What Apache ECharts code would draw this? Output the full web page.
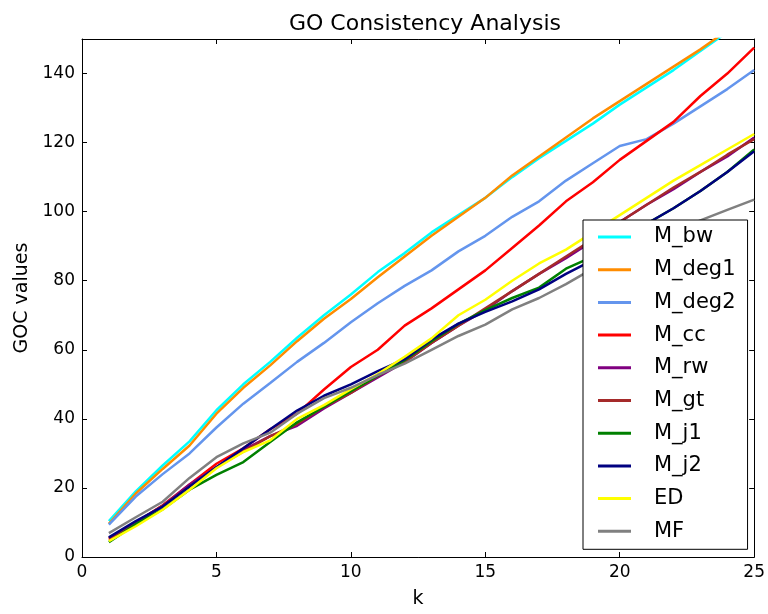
<!DOCTYPE html>
<html>
<head>
<meta charset="utf-8">
<script src="https://cdn.jsdelivr.net/npm/echarts@6/dist/echarts.min.js"></script>
<style>html,body{margin:0;padding:0;background:#fff}#c{width:768px;height:614px}</style>
</head>
<body>
<div id="c"></div>
<script>
const kValues = [1,2,3,4,5,6,7,8,9,10,11,12,13,14,15,16,17,18,19,20,21,22,23,24,25];
const seriesNames = ['M_bw','M_deg1','M_deg2','M_cc','M_rw','M_gt','M_j1','M_j2','ED','MF'];
const M_bw   = [10.4,19,26.5,33.5,42.5,50,56.5,63.5,70,76,82.5,88,94,99,104,110,115.5,120.5,125.5,131,136,141,146.5,152,157];
const M_deg1 = [9.6,18.4,25.5,32.3,41.5,49,55.5,62.5,69,74.7,81,87,93,98.5,104,110.5,116,121.5,127,132,137,142,147,152.5,158];
const M_deg2 = [9.4,17.5,24,30,37.5,44.4,50.4,56.5,62,68,73.5,78.5,83,88.5,93,98.5,103,109,114,119,121,125.5,130.5,135.5,141];
const M_cc   = [5,10,15,21,27,31.5,37,41.5,48.5,55,60,67,72,77.5,83,89.5,96,103,108.5,115,120.5,126,133.5,140,147.5];
const M_rw   = [5.5,10,14.8,21,26,31,35,38,43,47.5,52,56.5,62,67,71.5,77,82,86.5,91.5,97,102,106.5,111.5,116,121.5];
const M_gt   = [5.5,10,14.8,20.5,26,30.5,35,38.5,43.5,47.5,52.5,56.5,62,67,72,77,82,87,92,97,102,107,111.5,116.5,121];
const M_j1   = [4.3,9.5,13.8,19.5,23.8,27.5,33.3,39,43.5,48,52.5,57,62.5,67.5,71.5,75,78,83.5,87,92,96.5,101,106,111.5,118];
const M_j2   = [5.7,10.4,14.6,20.4,26,31.5,37,42.4,46.7,50,53.8,57.3,63,67.6,71,74,77.5,82,86,91.5,96.5,101,106,111.5,117.5];
const ED     = [4.6,8.9,13.7,19.5,25.7,30.4,33.8,40,44,48.6,53,58,63.3,70,74.5,80,85,89,94,99,104,109,113.5,118,122.5];
const MF     = [6.9,11.5,16,22.9,28.9,32.9,36,41.5,46,49,52.7,56,60,64,67.3,71.7,75,79,83.5,87.5,91,94,97.5,100.5,103.5];
const seriesValues = [M_bw,M_deg1,M_deg2,M_cc,M_rw,M_gt,M_j1,M_j2,ED,MF];
const colors = ['#00FFFF','#FF8C00','#6495ED','#FF0000','#800080','#A52A2A','#008000','#000080','#FFFF00','#808080'];

const font = 'DejaVu Sans';
const chart = echarts.init(document.getElementById('c'));
const axisCommon = {
  type: 'value',
  axisLine: {show: true, onZero: false, lineStyle: {color: '#000', width: 1}},
  axisTick: {show: true, inside: true, length: 5, lineStyle: {color: '#000'}},
  splitLine: {show: false}
};
chart.setOption({
  animation: false,
  backgroundColor: '#fff',
  title: {text: 'GO Consistency Analysis', left: 420, top: 8, textAlign: 'center',
    textStyle: {fontFamily: font, fontSize: 22, fontWeight: 'normal', color: '#000'}},
  grid: {left: 82, right: 11, top: 39, bottom: 51},
  xAxis: [
    Object.assign({}, axisCommon, {min: 0, max: 25, interval: 5, position: 'bottom',
      name: 'k', nameLocation: 'middle', nameGap: 33,
      nameTextStyle: {fontFamily: font, fontSize: 19, color: '#000'},
      axisLabel: {fontFamily: font, fontSize: 17, color: '#000', margin: 7}}),
    Object.assign({}, axisCommon, {min: 0, max: 25, interval: 5, position: 'top', axisLabel: {show: false}})
  ],
  yAxis: [
    Object.assign({}, axisCommon, {min: 0, max: 150, interval: 20, position: 'left',
      name: 'GOC values', nameLocation: 'middle', nameGap: 50,
      nameTextStyle: {fontFamily: font, fontSize: 19, color: '#000'},
      axisLabel: {fontFamily: font, fontSize: 17, color: '#000', margin: 7, showMaxLabel: false}}),
    Object.assign({}, axisCommon, {min: 0, max: 150, interval: 20, position: 'right', axisLabel: {show: false}})
  ],
  legend: {
    orient: 'vertical', left: 583, top: 220,
    padding: [6, 12, 7, 15],
    backgroundColor: '#fff', borderColor: '#000', borderWidth: 1,
    icon: 'rect', itemWidth: 33, itemHeight: 3, itemGap: 10.7,
    textStyle: {fontFamily: font, fontSize: 21, color: '#000', lineHeight: 22, padding: [0, 0, 0, 18]},
    data: seriesNames
  },
  series: seriesNames.map((n, i) => ({
    name: n, type: 'line', xAxisIndex: 0, yAxisIndex: 0,
    data: kValues.map((k, j) => [k, seriesValues[i][j]]),
    showSymbol: false, symbol: 'none', clip: true,
    lineStyle: {color: colors[i], width: 2.5},
    itemStyle: {color: colors[i]}
  }))
});
</script>
</body>
</html>
